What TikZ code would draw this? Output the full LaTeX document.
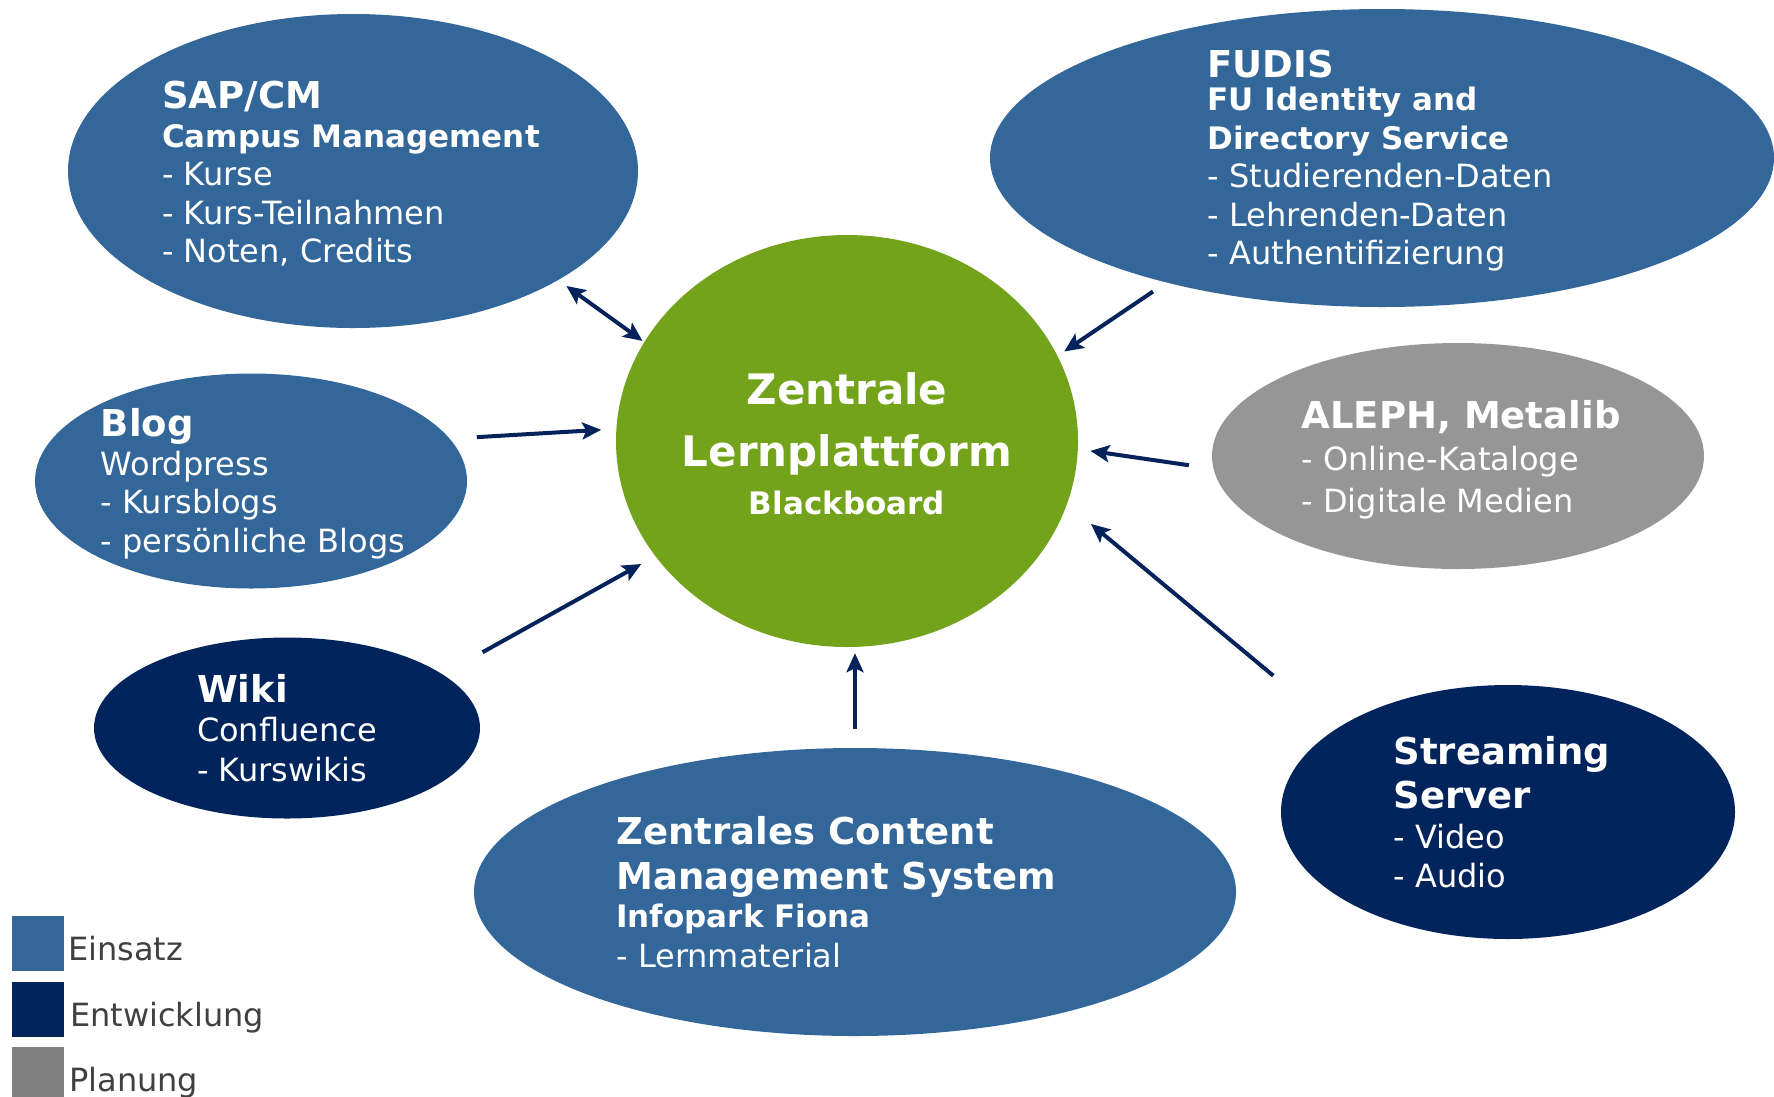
\documentclass[tikz,border=0pt]{standalone}
\usepackage{fontspec}
\setmainfont{DejaVu Sans}
\usetikzlibrary{shapes.geometric,arrows.meta}

\definecolor{einsatz}{RGB}{51,102,153}
\definecolor{entwicklung}{RGB}{2,36,92}
\definecolor{planung}{RGB}{128,128,128}
\definecolor{alephgrau}{RGB}{150,150,150}
\definecolor{lerngruen}{RGB}{115,163,27}
\definecolor{pfeilblau}{RGB}{5,35,90}
\definecolor{legtext}{RGB}{64,64,64}

\newcommand{\ttl}[1]{{\fontsize{37}{38.5}\selectfont\bfseries #1}}
\newcommand{\utl}[1]{{\fontsize{31}{38.5}\selectfont\bfseries #1}}

\tikzset{
  blob/.style={ellipse, inner sep=0pt, draw=none},
  txt/.style={text=white, align=left, inner sep=0pt, font=\fontsize{32}{38.5}\selectfont},
  pfeil/.style={draw=pfeilblau, line width=4pt, -{Stealth[length=19pt,width=17pt,inset=4pt]}},
  legbox/.style={anchor=north west, inner sep=0pt, minimum width=52pt, minimum height=55pt},
  legtxt/.style={anchor=base west, inner sep=0pt, text=legtext, font=\fontsize{32}{38.5}\selectfont}
}

\begin{document}
\begin{tikzpicture}[x=1pt,y=1pt,yscale=-1]
\useasboundingbox (0,0) rectangle (1774,1096);

% Ellipse
\node [blob, fill=lerngruen, minimum width=462pt, minimum height=412pt] (zentral) at (847,441) {};
\node [blob, fill=einsatz, minimum width=570pt, minimum height=314pt] (sap) at (353,171) {};
\node [blob, fill=einsatz, minimum width=784pt, minimum height=298pt] (fudis) at (1382,158) {};
\node [blob, fill=einsatz, minimum width=432pt, minimum height=215pt] (blog) at (251,481) {};
\node [blob, fill=alephgrau, minimum width=492pt, minimum height=226pt] (aleph) at (1458,456) {};
\node [blob, fill=entwicklung, minimum width=386pt, minimum height=181pt] (wiki) at (287,728) {};
\node [blob, fill=einsatz, minimum width=762pt, minimum height=288pt] (zcms) at (855,892) {};
\node [blob, fill=entwicklung, minimum width=454pt, minimum height=254pt] (stream) at (1508,812) {};

% Text Node
\node [txt, align=center, font=\fontsize{42}{62}\selectfont\bfseries] (zentral-t) at ([yshift=3pt]zentral) {Zentrale\\Lernplattform\\[-14.5pt]{\fontsize{31}{38.5}\selectfont Blackboard}};
% Text Node
\node [txt] (sap-t) at ([xshift=-2pt,yshift=3pt]sap) {\ttl{SAP/CM}\\\utl{Campus Management}\\- Kurse\\- Kurs-Teilnahmen\\- Noten, Credits};
% Text Node
\node [txt] (fudis-t) at ([xshift=-2pt,yshift=3pt]fudis) {\ttl{FUDIS}\\[-5.5pt]\utl{FU Identity and}\\\utl{Directory Service}\\- Studierenden-Daten\\- Lehrenden-Daten\\- Authentifizierung};
% Text Node
\node [txt] (blog-t) at ([xshift=2pt,yshift=3pt]blog) {\ttl{Blog}\\Wordpress\\- Kursblogs\\- persönliche Blogs};
% Text Node
\node [txt] (aleph-t) at ([xshift=3pt,yshift=4pt]aleph) {\ttl{ALEPH, Metalib}\\[3.5pt]- Online-Kataloge\\[3.5pt]- Digitale Medien};
% Text Node
\node [txt] (wiki-t) at (wiki) {\ttl{Wiki}\\[1pt]Confluence\\[1pt]- Kurswikis};
% Text Node
\node [txt] (zcms-t) at ([xshift=-19pt]zcms) {\ttl{Zentrales Content}\\[6.5pt]\ttl{Management System}\\\utl{Infopark Fiona}\\[1.5pt]- Lernmaterial};
% Text Node
\node [txt] (stream-t) at ([xshift=-6pt]stream) {\ttl{Streaming}\\[5.5pt]\ttl{Server}\\[1.5pt]- Video\\- Audio};

% Connection
\draw [pfeil, {Stealth[length=19pt,width=17pt,inset=4pt]}-{Stealth[length=19pt,width=17pt,inset=4pt]}, shorten <=10pt, shorten >=2pt] (sap.-28) -- (zentral.154);
% Connection
\draw [pfeil, shorten <=16pt, shorten >=8pt] (fudis.210) -- (zentral.22.5);
% Connection
\draw [pfeil, shorten <=27pt, shorten >=15pt] (blog.12) -- (zentral.177);
% Connection
\draw [pfeil, shorten <=24.8pt, shorten >=12.5pt] (aleph.183.7) -- (zentral.-2.5);
% Connection
\draw [pfeil, shorten <=45.5pt, shorten >=16pt] (wiki.19.3) -- (zentral.211.4);
% Connection
\draw [pfeil, shorten <=19pt, shorten >=6pt] (zcms.north) -- (zentral.south -| zcms.north);
% Connection
\draw [pfeil, shorten <=82.5pt, shorten >=31pt] (stream.154.8) -- (zentral.-16.7);

% Legend
\node [legbox, fill=einsatz] (leg-e) at (12,916) {};
\node [legbox, fill=entwicklung] (leg-w) at (12,982) {};
\node [legbox, fill=planung, minimum height=60pt] (leg-p) at (12,1047) {};
\node [legtxt] (leg-e-t) at (68,960) {Einsatz};
\node [legtxt] (leg-w-t) at (70,1026) {Entwicklung};
\node [legtxt] (leg-p-t) at (69,1091) {Planung};

\end{tikzpicture}
\end{document}
